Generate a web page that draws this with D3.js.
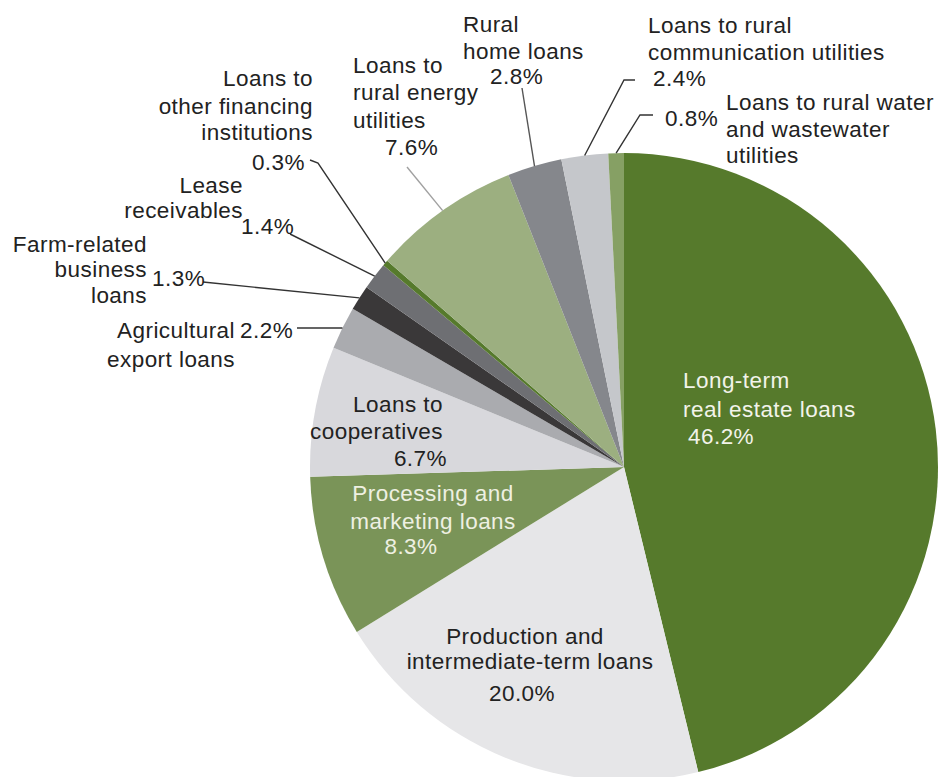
<!DOCTYPE html>
<html>
<head>
<meta charset="utf-8">
<script src="https://cdn.jsdelivr.net/npm/d3@7"></script>
<style>
  html, body { margin: 0; padding: 0; background: #ffffff; }
  svg { display: block; }
  text { font-family: "Liberation Sans", Arial, Helvetica, sans-serif; font-size: 22.5px; letter-spacing: 0.45px; }
</style>
</head>
<body>
<svg id="chart" width="941" height="777"></svg>
<script>
// Loan portfolio shares (percent), clockwise from 12 o'clock
const categories = [
  "Long-term real estate loans",
  "Production and intermediate-term loans",
  "Processing and marketing loans",
  "Loans to cooperatives",
  "Agricultural export loans",
  "Farm-related business loans",
  "Lease receivables",
  "Loans to other financing institutions",
  "Loans to rural energy utilities",
  "Rural home loans",
  "Loans to rural communication utilities",
  "Loans to rural water and wastewater utilities"
];
const values = [46.2, 20.0, 8.3, 6.7, 2.2, 1.3, 1.4, 0.3, 7.6, 2.8, 2.4, 0.8];
const palette = [
  "#567a2c", "#e6e6e8", "#7a9458", "#d8d8dc", "#aaabaf", "#3a3839",
  "#6e6f73", "#567a2c", "#9caf80", "#85878c", "#c5c7cb", "#86a064"
];

// Label layout: text lines and leader-line points (the last leader point
// is taken from the slice's mid-angle on the pie rim).
const pctSlot = "%PCT%";
const labelLayout = [
  { fill: "#f2f3ea", lines: [["Long-term", 683, 388, "start"], ["real estate loans", 683, 417, "start"], [pctSlot, 688, 444, "start"]] },
  { fill: "#222", lines: [["Production and", 525, 644, "middle"], ["intermediate-term loans", 530, 669, "middle"], [pctSlot, 522, 701, "middle"]] },
  { fill: "#eef0e2", lines: [["Processing and", 433, 501, "middle"], ["marketing loans", 433, 529, "middle"], [pctSlot, 411, 554, "middle"]] },
  { fill: "#222", lines: [["Loans to", 443, 412, "end"], ["cooperatives", 443, 439, "end"], [pctSlot, 447, 466, "end"]] },
  { fill: "#222", lines: [["Agricultural", 235, 338, "end"], ["export loans", 235, 367, "end"], [pctSlot, 240, 338, "start"]],
    leader: [[297, 328], [336, 328]], stroke: "#333" },
  { fill: "#222", lines: [["Farm-related", 147, 252, "end"], ["business", 147, 277, "end"], ["loans", 147, 303, "end"], [pctSlot, 152, 286, "start"]],
    leader: [[203, 282]], stroke: "#333" },
  { fill: "#222", lines: [["Lease", 243, 193, "end"], ["receivables", 243, 218, "end"], [pctSlot, 241, 234, "start"]],
    leader: [[290, 234]], stroke: "#333" },
  { fill: "#222", lines: [["Loans to", 313, 86, "end"], ["other financing", 313, 114, "end"], ["institutions", 313, 140, "end"], [pctSlot, 305, 170, "end"]],
    leader: [[310, 160], [318, 163]], stroke: "#333" },
  { fill: "#222", lines: [["Loans to", 353, 73, "start"], ["rural energy", 353, 100, "start"], ["utilities", 353, 128, "start"], [pctSlot, 385, 155, "start"]],
    leader: [[407, 167]], stroke: "#a0a0a0" },
  { fill: "#222", lines: [["Rural", 463, 32, "start"], ["home loans", 463, 59, "start"], [pctSlot, 490, 84, "start"]],
    leader: [[522, 88]], stroke: "#555" },
  { fill: "#222", lines: [["Loans to rural", 648, 33, "start"], ["communication utilities", 648, 60, "start"], [pctSlot, 653, 86, "start"]],
    leader: [[635, 80], [624, 80]], stroke: "#333" },
  { fill: "#222", lines: [[pctSlot, 665, 126, "start"], ["Loans to rural water", 726, 110, "start"], ["and wastewater", 726, 137, "start"], ["utilities", 726, 163, "start"]],
    leader: [[653, 115], [640, 115]], stroke: "#333" }
];

const svg = d3.select("#chart");
const cx = 624, cy = 467, radius = 314;

const pie = d3.pie().sort(null).value(d => d.value);
const slices = pie(categories.map((c, i) => ({ name: c, value: values[i], i })));

const arc = d3.arc().innerRadius(0).outerRadius(radius);
const rimArc = d3.arc().innerRadius(radius).outerRadius(radius);

const g = svg.append("g").attr("transform", `translate(${cx},${cy})`);

g.selectAll("path.slice")
  .data(slices)
  .join("path")
  .attr("class", "slice")
  .attr("d", arc)
  .attr("fill", d => palette[d.data.i]);

const fmt = d3.format(".1f");
const line = d3.line();

// Leader lines: label-side points, ending on the slice rim
slices.forEach(s => {
  const lay = labelLayout[s.data.i];
  if (!lay.leader) return;
  const rim = rimArc.centroid(s);
  const pts = lay.leader.map(p => [p[0], p[1]]).concat([[cx + rim[0], cy + rim[1]]]);
  svg.append("path")
    .attr("d", line(pts))
    .attr("fill", "none")
    .attr("stroke", lay.stroke)
    .attr("stroke-width", 1.4);
});

// Labels
slices.forEach(s => {
  const lay = labelLayout[s.data.i];
  lay.lines.forEach(([t, x, y, anchor]) => {
    svg.append("text")
      .attr("x", x)
      .attr("y", y)
      .attr("text-anchor", anchor)
      .attr("fill", lay.fill)
      .text(t === pctSlot ? fmt(s.data.value) + "%" : t);
  });
});
</script>
</body>
</html>
